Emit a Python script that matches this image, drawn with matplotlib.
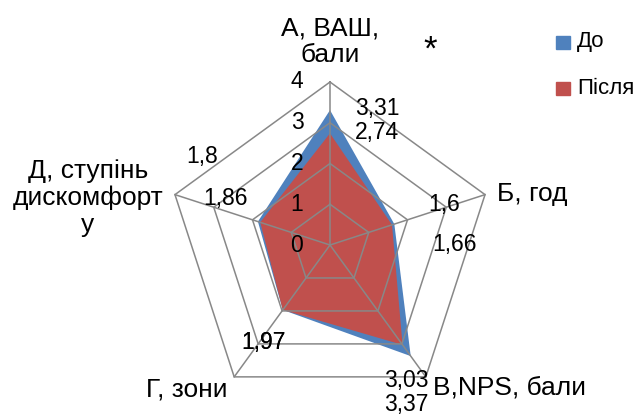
import numpy as np
import matplotlib.pyplot as plt

plt.rcParams['font.family'] = ['Liberation Sans', 'DejaVu Sans']

# Axis names, going clockwise from the top
axes_names = ['А, ВАШ,\nбали', 'Б, год', 'В,NPS, бали', 'Г, зони', 'Д, ступінь\nдискомфорт\nу']
before = [3.31, 1.66, 3.37, 1.97, 1.86]
after = [2.74, 1.60, 3.03, 1.97, 1.80]
series_names = ['До', 'Після']
ring_levels = [0, 1, 2, 3, 4]

blue = '#4F81BD'
red = '#C0504D'
grid_col = '#888888'

W, H = 637, 417
cx, cy = 330, 245          # centre of the web, pixels from top-left
unit = 40.75               # pixels per unit of value

fig = plt.figure(figsize=(W / 100, H / 100), dpi=100)
ax = fig.add_axes([0, 0, 1, 1])
ax.set_xlim(-cx / unit, (W - cx) / unit)
ax.set_ylim(-(H - cy) / unit, cy / unit)
ax.axis('off')

n = len(axes_names)
angles = np.deg2rad(90 - 360 / n * np.arange(n))


def to_xy(vals):
    vals = np.asarray(vals, dtype=float)
    return vals * np.cos(angles), vals * np.sin(angles)


def px(x, y):
    # pixel position (from top-left) -> data coordinates
    return (x - cx) / unit, (cy - y) / unit


# filled series, "До" behind "Після"
for vals, col in [(before, blue), (after, red)]:
    x, y = to_xy(vals)
    ax.fill(x, y, color=col, zorder=2, lw=0)

# pentagon rings and spokes
for lev in ring_levels[1:]:
    x, y = to_xy([lev] * n)
    ax.plot(np.append(x, x[0]), np.append(y, y[0]), color=grid_col, lw=1.1, zorder=3)
top = ring_levels[-1]
for a in angles:
    ax.plot([0, top * np.cos(a)], [0, top * np.sin(a)], color=grid_col, lw=1.1, zorder=3)

# radial tick labels along the top spoke
for lev in ring_levels:
    ax.text(-33 / unit, lev, str(lev), ha='center', va='center', fontsize=16.5, zorder=4)

# category titles
title_fs = 19
ax.text(*px(330, 42), axes_names[0], ha='center', va='center', fontsize=title_fs,
        linespacing=1.15)
ax.text(*px(497, 194), axes_names[1], ha='left', va='center', fontsize=title_fs)
ax.text(*px(433, 388), axes_names[2], ha='left', va='center', fontsize=title_fs)
ax.text(*px(228, 389), axes_names[3], ha='right', va='center', fontsize=title_fs)
ax.text(*px(88, 198), axes_names[4], ha='center', va='center', fontsize=title_fs,
        linespacing=1.15)

ax.text(*px(430, 50), '*', ha='center', va='center', fontsize=25)


def fmt(v):
    return ('%g' % v).replace('.', ',')


# value labels
before_pos = [(377, 108), (455, 244), (406, 405), (263, 342), (226, 199)]
after_pos = [(377, 133), (444, 204), (406, 381), (263, 342), (202, 157)]
for vals, pos in [(before, before_pos), (after, after_pos)]:
    for v, (x, y) in zip(vals, pos):
        ax.text(*px(x, y), fmt(v), ha='center', va='center', fontsize=16.5, zorder=5)

# legend
for i, (name, col) in enumerate(zip(series_names, [blue, red])):
    y = 42 + 46 * i
    ax.add_patch(plt.Rectangle(px(556, y + 6.5), 14 / unit, 13 / unit, color=col))
    ax.text(*px(577, y), name, ha='left', va='center', fontsize=16)

fig.savefig('out.png', dpi=100)
